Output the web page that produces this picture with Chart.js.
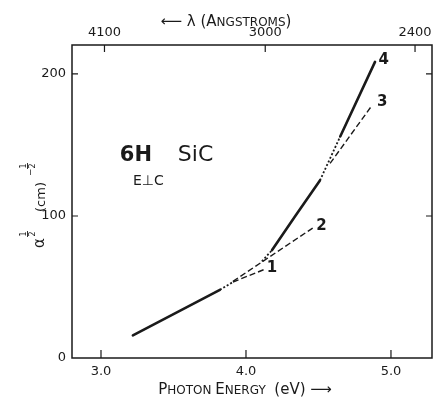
<!DOCTYPE html>
<html>
<head>
<meta charset="utf-8">
<script src="https://cdn.jsdelivr.net/npm/chart.js@4/dist/chart.umd.min.js"></script>
<style>
html,body{margin:0;padding:0;background:#fff;}
#wrap{width:433px;height:397px;position:relative;}
</style>
</head>
<body>
<div id="wrap"><canvas id="c"></canvas></div>
<script>
// ---- data ----
const xTicks = [3.0, 4.0, 5.0];
const xTickLabels = ["3.0", "4.0", "5.0"];
const yTicks = [0, 100, 200];
const wavelengthTicks = [4100, 3000, 2400];   // Angstroms
const HC = 12398.4;                            // eV*Angstrom

const baseE = [3.22, 3.82];      const baseV = [16, 48];
const baseDotE = [3.82, 3.91];   const baseDotV = [48, 53.5];
const curve1E = [3.91, 4.13];    const curve1V = [53.5, 62.5];
const curve2E = [3.91, 4.46];    const curve2V = [54, 91.5];
const dot4aE = [4.11, 4.18];     const dot4aV = [68, 76];
const curve4aE = [4.18, 4.34, 4.51]; const curve4aV = [76, 100, 125];
const dot4bE = [4.51, 4.65];     const dot4bV = [125, 156];
const curve4bE = [4.65, 4.89];   const curve4bV = [156, 208.5];
const curve3E = [4.58, 4.87];    const curve3V = [137, 178];

const curveLabels = ["1", "2", "3", "4"];
const curveLabelE = [4.18, 4.52, 4.94, 4.95];
const curveLabelV = [63, 93, 180, 210];

const pts = (xs, ys) => xs.map((x, i) => ({x: x, y: ys[i]}));
const INK = '#1a1a1a';
const solid = (d) => ({data: d, showLine: true, borderColor: INK, borderWidth: 2.6, pointRadius: 0, fill: false, borderCapStyle: 'round'});
const dashed = (d) => ({data: d, showLine: true, borderColor: INK, borderWidth: 1.4, borderDash: [6, 3], pointRadius: 0, fill: false});
const dotted = (d) => ({data: d, showLine: true, borderColor: INK, borderWidth: 1.8, borderDash: [2, 2], pointRadius: 0, fill: false});

const datasets = [
  solid(pts(baseE, baseV)),
  dotted(pts(baseDotE, baseDotV)),
  dashed(pts(curve1E, curve1V)),
  dashed(pts(curve2E, curve2V)),
  dotted(pts(dot4aE, dot4aV)),
  solid(pts(curve4aE, curve4aV)),
  dotted(pts(dot4bE, dot4bV)),
  solid(pts(curve4bE, curve4bV)),
  dashed(pts(curve3E, curve3V))
];

const TICKFONT = {family: 'DejaVu Sans', size: 13};

function drawMixed(ctx, parts, x, y) {
  let cx = x;
  parts.forEach(p => {
    ctx.font = p[1] + 'px "DejaVu Sans"';
    ctx.fillText(p[0], cx, y);
    cx += ctx.measureText(p[0]).width;
  });
  return cx;
}
function mixedWidth(ctx, parts) {
  let w = 0;
  parts.forEach(p => { ctx.font = p[1] + 'px "DejaVu Sans"'; w += ctx.measureText(p[0]).width; });
  return w;
}
function stackedFrac(ctx, u, v) {
  ctx.font = '8px "DejaVu Sans"';
  ctx.textAlign = 'center';
  ctx.fillText('1', u, v - 6);
  ctx.fillText('2', u, v + 3);
  ctx.beginPath();
  ctx.moveTo(u - 3, v - 4.5); ctx.lineTo(u + 3, v - 4.5);
  ctx.lineWidth = 0.9; ctx.stroke();
  ctx.textAlign = 'left';
}

const decor = {
  id: 'decor',
  afterDraw(chart) {
    const ctx = chart.ctx, a = chart.chartArea;
    const sx = chart.scales.x, sy = chart.scales.y, st = chart.scales.x2;
    ctx.save();
    ctx.strokeStyle = INK; ctx.fillStyle = INK;
    // frame
    ctx.lineWidth = 1.5;
    ctx.strokeRect(a.left, a.top, a.right - a.left, a.bottom - a.top);
    // inward ticks
    ctx.lineWidth = 1.2;
    ctx.beginPath();
    sx.ticks.forEach(t => { const p = sx.getPixelForValue(t.value); ctx.moveTo(p, a.bottom); ctx.lineTo(p, a.bottom - 8); });
    st.ticks.forEach(t => { const p = st.getPixelForValue(t.value); ctx.moveTo(p, a.top); ctx.lineTo(p, a.top + 7); });
    sy.ticks.forEach(t => { if (t.value === 0) return; const p = sy.getPixelForValue(t.value);
      ctx.moveTo(a.left, p); ctx.lineTo(a.left + 6, p); ctx.moveTo(a.right, p); ctx.lineTo(a.right - 6, p); });
    ctx.stroke();

    // bottom title
    ctx.textBaseline = 'alphabetic'; ctx.textAlign = 'left';
    const bt = [['P', 15], ['HOTON ', 12], ['E', 15], ['NERGY ', 12], [' (eV) \u27F6', 15]];
    let w = mixedWidth(ctx, bt);
    drawMixed(ctx, bt, 245 - w / 2, 394);
    // top title
    const tt = [['\u27F5 \u03BB (', 15], ['A', 15], ['NGSTROMS', 12], [')', 15]];
    w = mixedWidth(ctx, tt);
    drawMixed(ctx, tt, 226 - w / 2, 26);

    // y title (rotated)
    ctx.save();
    ctx.translate(44, 248);
    ctx.rotate(-Math.PI / 2);
    ctx.font = '15px "DejaVu Sans"';
    ctx.fillText('\u03B1', 0, 0);
    stackedFrac(ctx, 14, -12);
    ctx.font = '13px "DejaVu Sans"';
    ctx.fillText('(cm)', 36, 1);
    ctx.font = '9px "DejaVu Sans"';
    ctx.fillText('\u2212', 72, -11);
    stackedFrac(ctx, 82, -12);
    ctx.restore();

    // sample label
    ctx.textAlign = 'left';
    ctx.font = 'bold 21px "DejaVu Sans"';
    const lx = sx.getPixelForValue(3.13), ly = sy.getPixelForValue(139);
    ctx.fillText('6H', lx, ly);
    ctx.font = '22px "DejaVu Sans"';
    ctx.fillText('SiC', lx + 58, ly);
    ctx.font = '14px "DejaVu Sans"';
    ctx.fillText('E\u22A5C', sx.getPixelForValue(3.22), sy.getPixelForValue(122));

    // curve labels
    ctx.font = 'bold 15px "DejaVu Sans"';
    ctx.textAlign = 'center'; ctx.textBaseline = 'middle';
    curveLabels.forEach((s, i) => {
      ctx.fillText(s, sx.getPixelForValue(curveLabelE[i]), sy.getPixelForValue(curveLabelV[i]));
    });
    ctx.restore();
  }
};

const noPad = s => { s.paddingLeft = 0; s.paddingRight = 0; s.paddingTop = 0; s.paddingBottom = 0; };

new Chart(document.getElementById('c'), {
  type: 'scatter',
  data: {datasets: datasets},
  options: {
    responsive: true,
    maintainAspectRatio: false,
    animation: false,
    layout: {padding: {left: 0, right: 1, top: 0, bottom: 0}},
    plugins: {legend: {display: false}, tooltip: {enabled: false}},
    scales: {
      x: {
        type: 'linear', position: 'bottom', min: 2.8, max: 5.283,
        afterBuildTicks: s => { s.ticks = xTicks.map(v => ({value: v})); },
        afterFit: s => { s.height = 39; noPad(s); },
        grid: {display: false, drawTicks: false},
        border: {display: false},
        ticks: {font: TICKFONT, color: INK, padding: 6, maxRotation: 0,
                callback: (v, i) => xTickLabels[i]}
      },
      x2: {
        type: 'linear', position: 'top', min: 2.8, max: 5.283,
        afterBuildTicks: s => { s.ticks = wavelengthTicks.map(l => ({value: HC / l})); },
        afterFit: s => { s.height = 45; noPad(s); },
        grid: {display: false, drawTicks: false},
        border: {display: false},
        ticks: {font: TICKFONT, color: INK, padding: 5, maxRotation: 0,
                callback: (v, i) => String(wavelengthTicks[i])}
      },
      y: {
        type: 'linear', position: 'left', min: 0, max: 220.4,
        afterBuildTicks: s => { s.ticks = yTicks.map(v => ({value: v})); },
        afterFit: s => { s.width = 72; noPad(s); },
        grid: {display: false, drawTicks: false},
        border: {display: false},
        ticks: {font: TICKFONT, color: INK, padding: 6,
                callback: (v) => String(v)}
      }
    }
  },
  plugins: [decor]
});
</script>
</body>
</html>
